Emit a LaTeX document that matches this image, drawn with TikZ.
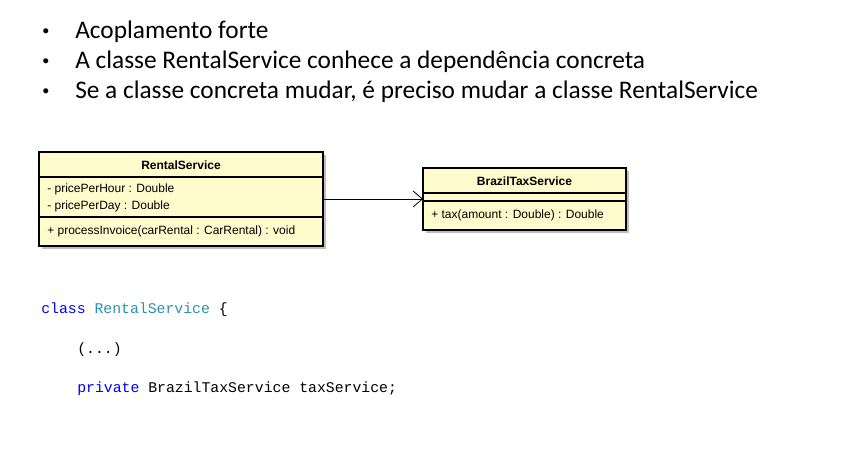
\documentclass[tikz,border=0pt]{standalone}
\usepackage{fontspec}
\setmainfont{Carlito}
\newfontfamily\umlfont{Liberation Sans}
\newfontfamily\codefont{Liberation Mono}
\usetikzlibrary{arrows.meta}
\definecolor{umlfill}{RGB}{255,251,204}
\definecolor{kwblue}{RGB}{0,0,255}
\definecolor{typeteal}{RGB}{43,145,175}
\definecolor{shadowgray}{RGB}{190,190,190}
\tikzset{
  bullettext/.style={anchor=west, inner sep=0pt, font=\fontsize{19}{23}\selectfont},
  bulletdot/.style={anchor=center, inner sep=0pt, font=\umlfont\fontsize{14}{16}\selectfont},
  umlbox/.style={draw=black, line width=1.5pt, fill=umlfill},
  umlshadow/.style={fill=shadowgray, draw=none},
  umldiv/.style={draw=black, line width=0.8pt},
  umltitle/.style={inner sep=0pt, font=\umlfont\bfseries\fontsize{9}{11}\selectfont},
  umltext/.style={anchor=west, inner sep=0pt, font=\umlfont\fontsize{9}{11}\selectfont},
  codetext/.style={anchor=west, inner sep=0pt, font=\codefont\fontsize{11.1}{13}\selectfont},
  dep/.style={-{Straight Barb[length=7pt,width=12pt]}, line width=0.6pt}
}
\begin{document}
\begin{tikzpicture}[x=0.75pt,y=-0.75pt]
\useasboundingbox[fill=white] (0,0) rectangle (854,473);
% bullets
\node[bulletdot] (b1) at (46,33) {•};
\node[bulletdot] (b2) at (46,63) {•};
\node[bulletdot] (b3) at (46,93) {•};
\node[bullettext] (t1) at (75,32) {Acoplamento forte};
\node[bullettext] (t2) at (75,62) {A classe RentalService conhece a dependência concreta};
\node[bullettext] (t3) at (75,92) {Se a classe concreta mudar, é preciso mudar a classe RentalService};
% RentalService box
\fill[umlshadow] (42,155) rectangle (326,249);
\path[umlbox] (39,152) rectangle (323,246);
\coordinate (rsW) at (39,199);
\coordinate (rsE) at (323,199);
\draw[umldiv] (39,177) -- (323,177);
\draw[umldiv] (39,217) -- (323,217);
\node[umltitle] (rsT) at (181,165) {RentalService};
\node[umltext] (rsA1) at (47,189) {- pricePerHour : Double};
\node[umltext] (rsA2) at (47,206) {- pricePerDay : Double};
\node[umltext] (rsM1) at (47,231) {+ processInvoice(carRental : CarRental) : void};
% BrazilTaxService box
\fill[umlshadow] (426,171) rectangle (629,233);
\path[umlbox] (423,168) rectangle (626,230);
\coordinate (btW) at (423,199);
\draw[umldiv] (423,193) -- (626,193);
\draw[umldiv] (423,201) -- (626,201);
\node[umltitle] (btT) at (524.5,181) {BrazilTaxService};
\node[umltext] (btM1) at (431,215) {+ tax(amount : Double) : Double};
% dependency arrow
\draw[dep] (rsE) -- (btW);
% code
\node[codetext] (c1) at (41,310) {\textcolor{kwblue}{class} \textcolor{typeteal}{RentalService} \{};
\node[codetext] (c2) at (77,350) {(...)};
\node[codetext] (c3) at (77,389) {\textcolor{kwblue}{private} BrazilTaxService taxService;};
\end{tikzpicture}
\end{document}
